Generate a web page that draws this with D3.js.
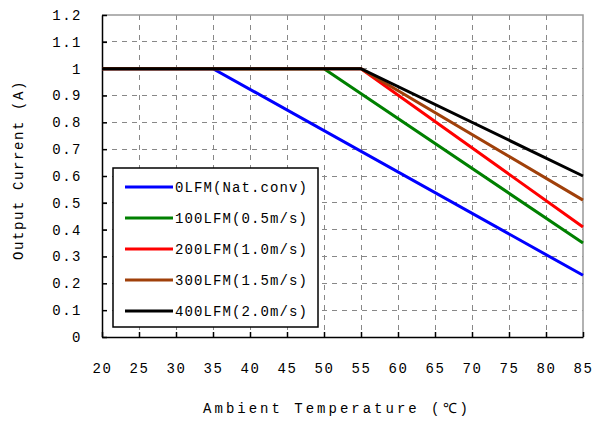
<!DOCTYPE html>
<html><head><meta charset="utf-8">
<script src="https://cdn.jsdelivr.net/npm/d3@7"></script>
<style>body{margin:0;background:#fff}svg{display:block}</style>
</head><body><div id="chart"></div>
<script>
const xTicks = [20,25,30,35,40,45,50,55,60,65,70,75,80,85];
const yTicks = [0,0.1,0.2,0.3,0.4,0.5,0.6,0.7,0.8,0.9,1,1.1,1.2];
const yTickLabels = ["0","0.1","0.2","0.3","0.4","0.5","0.6","0.7","0.8","0.9","1","1.1","1.2"];
const seriesNames = ["0LFM(Nat.conv)","100LFM(0.5m/s)","200LFM(1.0m/s)","300LFM(1.5m/s)","400LFM(2.0m/s)"];
const seriesColors = ["#0000ff","#008000","#ff0000","#a0400a","#000000"];
const s0 = [[20,1],[35,1],[85,0.23]];
const s100 = [[20,1],[50,1],[85,0.35]];
const s200 = [[20,1],[55,1],[85,0.41]];
const s300 = [[20,1],[55,1],[85,0.51]];
const s400 = [[20,1],[55,1],[85,0.60]];
const seriesData = [s0,s100,s200,s300,s400];

const W=594,H=424;
const svg=d3.select("#chart").append("svg").attr("width",W).attr("height",H);
const L=102,R=583,T=15,B=337;
const x=d3.scaleLinear().domain([20,85]).range([L,R]);
const y=d3.scaleLinear().domain([0,1.2]).range([B,T]);
const font="'Liberation Mono','DejaVu Sans Mono',monospace";

// grid
const g=svg.append("g");
g.selectAll("line.vg").data(xTicks.slice(1,-1)).enter().append("line")
 .attr("x1",d=>x(d)).attr("x2",d=>x(d)).attr("y1",T).attr("y2",B)
 .attr("stroke","#888").attr("stroke-width",1).attr("stroke-dasharray","5,5").attr("shape-rendering","crispEdges");
g.selectAll("line.hg").data(yTicks.slice(1,-1)).enter().append("line")
 .attr("x1",L).attr("x2",R).attr("y1",d=>y(d)).attr("y2",d=>y(d))
 .attr("stroke","#888").attr("stroke-width",1).attr("stroke-dasharray","5,5").attr("shape-rendering","crispEdges");

// top/right border gray
svg.append("path").attr("d",`M${L},${T}H${R}V${B}`).attr("fill","none").attr("stroke","#999").attr("stroke-width",1.5);

// axes
const xAxis=d3.axisBottom(x).tickValues(xTicks).tickSizeInner(-5).tickSizeOuter(0).tickPadding(0);
const xg=svg.append("g").attr("transform",`translate(0,${B})`).call(xAxis);
xg.select(".domain").attr("stroke","#000").attr("stroke-width",1.5);
xg.selectAll(".tick line").attr("stroke","#000").attr("stroke-width",1.5);
xg.selectAll(".tick text").attr("y",31).attr("dy","0.35em").attr("font-family",font).attr("font-size",14).attr("letter-spacing","1.5px").attr("fill","#000");

const yAxis=d3.axisLeft(y).tickValues(yTicks).tickFormat((d,i)=>yTickLabels[i]).tickSizeInner(-5).tickSizeOuter(0).tickPadding(0);
const yg=svg.append("g").attr("transform",`translate(${L},0)`).call(yAxis);
yg.select(".domain").attr("stroke","#000").attr("stroke-width",1.5);
yg.selectAll(".tick line").attr("stroke","#000").attr("stroke-width",1.5);
yg.selectAll(".tick text").attr("x",-20).attr("font-family",font).attr("font-size",14).attr("letter-spacing","1.5px").attr("fill","#000");

// lines
const line=d3.line().x(d=>x(d[0])).y(d=>y(d[1]));
svg.selectAll("path.series").data(seriesData).enter().append("path")
 .attr("d",line).attr("fill","none").attr("stroke",(d,i)=>seriesColors[i]).attr("stroke-width",3);

// legend
const lg=svg.append("g");
lg.append("rect").attr("x",113).attr("y",168).attr("width",205).attr("height",159)
 .attr("fill","#fff").attr("stroke","#000").attr("stroke-width",1.5);
seriesNames.forEach((n,i)=>{
  const yy=187+i*31;
  lg.append("line").attr("x1",125).attr("x2",173).attr("y1",yy).attr("y2",yy).attr("stroke",seriesColors[i]).attr("stroke-width",3);
  lg.append("text").attr("x",175).attr("y",yy).attr("dy","0.35em").attr("font-family",font).attr("font-size",14)
   .attr("letter-spacing","1.1px").attr("fill","#000").text(n);
});

// titles
svg.append("text").attr("x",337).attr("y",408).attr("dy","0.35em").attr("text-anchor","middle")
 .attr("font-family",font).attr("font-size",14).attr("letter-spacing","3px").text("Ambient Temperature (℃)");
svg.append("text").attr("transform","translate(18,170) rotate(-90)").attr("dy","0.35em").attr("text-anchor","middle")
 .attr("font-family",font).attr("font-size",14).attr("letter-spacing","1.6px").text("Output Current (A)");
</script></body></html>
